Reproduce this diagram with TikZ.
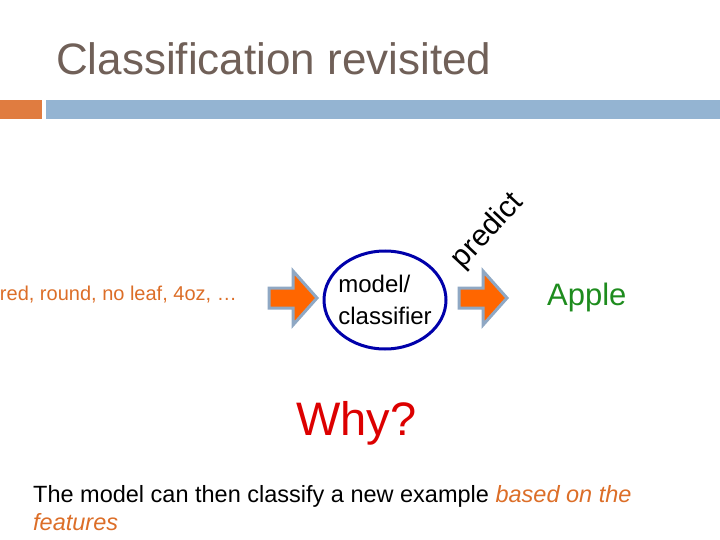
\documentclass[tikz,border=0pt]{standalone}
\usepackage{fontspec}
\setmainfont{Liberation Sans}
\usetikzlibrary{shapes.geometric,positioning}
\definecolor{titlegray}{RGB}{112,96,88}
\definecolor{barorange}{RGB}{224,124,64}
\definecolor{barblue}{RGB}{148,180,210}
\definecolor{featorange}{RGB}{220,110,40}
\definecolor{arrowfill}{RGB}{255,102,0}
\definecolor{arrowedge}{RGB}{143,168,196}
\definecolor{circblue}{RGB}{0,0,170}
\definecolor{applegreen}{RGB}{30,140,30}
\definecolor{whyred}{RGB}{220,0,0}

\begin{document}
\begin{tikzpicture}[x=1pt, y=-1pt,
  blockarrow/.style={draw=arrowedge, fill=arrowfill, line width=3pt, line join=miter},
  fsize/.style={font=\fontsize{#1}{#1}\selectfont}]
  \useasboundingbox (0,0) rectangle (720,540);
  % Title and bars
  \node[anchor=base west, fsize=44, text=titlegray, inner sep=0] (title) at (56,75) {Classification revisited};
  \fill[barorange] (0,100) rectangle (42,119);
  \fill[barblue] (46,100) rectangle (720,119);
  % Features -> model -> label
  \node[anchor=base east, fsize=20, text=featorange, inner sep=0] (feat) at (237,300) {red, round, no leaf, 4oz, \dots};
  \coordinate (in1) at (293,298);
  \coordinate (out1) at (483,298);
  \foreach \c in {in1,out1}
    \draw[blockarrow, shift={(\c)}] (-24,-10) -- (0,-10) -- (0,-27) -- (24,0)
      -- (0,27) -- (0,10) -- (-24,10) -- cycle;
  \node[draw=circblue, line width=3pt, ellipse, minimum width=122pt, minimum height=98pt,
    inner sep=0] (model) at (385,300) {};
  \node[align=left, inner sep=0, font=\fontsize{24}{32}\selectfont] (mtext) at (model) {model/\\classifier};
  \node[rotate=47, fsize=30, inner sep=0] (pred) at (488,231) {predict};
  \node[anchor=base west, fsize=31, text=applegreen, inner sep=0] (apple) at (547,305) {Apple};
  % Why?
  \node[anchor=base west, fsize=47, text=whyred, inner sep=0] (why) at (296,435) {Why?};
  % Bottom text
  \node[anchor=base west, inner sep=0, align=left,
    font=\fontsize{23.5}{28}\selectfont] (note) at (33,530)
    {The model can then classify a new example \textcolor{featorange}{\itshape based on the}\\
     \textcolor{featorange}{\itshape features}};
\end{tikzpicture}
\end{document}
